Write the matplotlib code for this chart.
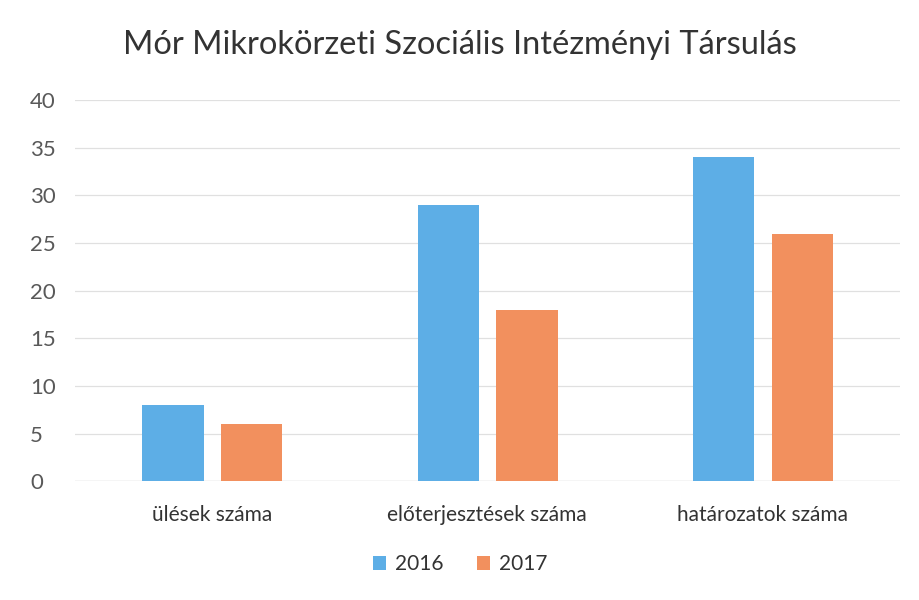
import matplotlib
matplotlib.use("Agg")
import matplotlib.pyplot as plt
import numpy as np

plt.rcParams['font.family'] = ['Lato', 'DejaVu Sans']

categories = ["ülések száma", "előterjesztések száma", "határozatok száma"]
values_2016 = [8, 29, 34]
values_2017 = [6, 18, 26]
series_labels = ["2016", "2017"]
y_ticks = [0, 5, 10, 15, 20, 25, 30, 35, 40]

blue = "#5DAEE6"
orange = "#F2905E"

fig = plt.figure(figsize=(9.2, 6), dpi=100)
ax = fig.add_axes([0.081, 0.198, 0.897, 0.635])

x = np.arange(len(categories))
w = 0.222
ax.bar(x - 0.142, values_2016, w, color=blue, label=series_labels[0], zorder=3)
ax.bar(x + 0.145, values_2017, w, color=orange, label=series_labels[1], zorder=3)

ax.set_xlim(-0.5, 2.5)
ax.set_ylim(0, 40)
ax.set_yticks(y_ticks)
ax.set_xticks(x)
ax.set_xticklabels(categories, fontsize=15, color="#333333")
ax.tick_params(axis='y', labelsize=16, colors="#595959", length=0, pad=32)
ax.tick_params(axis='x', length=0, pad=17)
for lbl in ax.get_yticklabels():
    lbl.set_horizontalalignment('left')
ax.grid(axis='y', color="#e0e0e0", linewidth=0.9, zorder=0)
for s in ax.spines.values():
    s.set_visible(False)
ax.axhline(0, color="#d0d0d0", linewidth=0.9, zorder=1)

fig.text(0.5, 0.925, "Mór Mikrokörzeti Szociális Intézményi Társulás",
         ha='center', va='center', fontsize=23.5, color="#333333")

fig.legend(loc='center', bbox_to_anchor=(0.5, 0.06), ncol=2, frameon=False,
           fontsize=15, handlelength=0.65, handleheight=0.65, handletextpad=0.4,
           columnspacing=1.6, labelcolor="#333333")

fig.savefig("out.png", dpi=100, facecolor="white")
